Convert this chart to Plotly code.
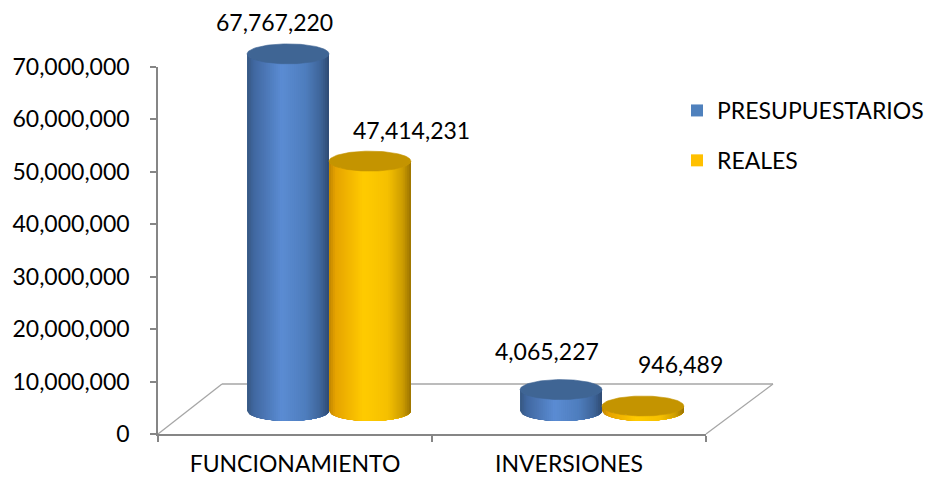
import numpy as np
import plotly.graph_objects as go

# ---------------- data ----------------
CATEGORIES = ["FUNCIONAMIENTO", "INVERSIONES"]
PRESUPUESTARIOS = [67767220, 4065227]
REALES = [47414231, 946489]
SERIES_NAMES = ["PRESUPUESTARIOS", "REALES"]
Y_TICKS = [0, 10000000, 20000000, 30000000, 40000000, 50000000, 60000000, 70000000]

# ---------------- style ----------------
FONT = "Lato"
FS = 23
BLUE_STOPS = [(0.0, "#365780"), (0.08, "#4067a0"), (0.42, "#5b8cd3"),
              (0.72, "#4e7dbd"), (0.9, "#3e6498"), (1.0, "#2e4a72")]
YELLOW_STOPS = [(0.0, "#c08500"), (0.08, "#e6a300"), (0.42, "#ffcb00"),
                (0.72, "#f5c000"), (0.9, "#cc9c00"), (1.0, "#9a7200")]
CAPS = ["#3f6594", "#c49400"]
LEGEND_COLORS = ["#4f81bd", "#ffc000"]
AXIS_GRAY = "#868686"
FLOOR_GRAY = "#a6a6a6"

W, H = 926, 479
ML, MR, MT, MB = 158, 0, 20, 45
PW, PH = W - ML - MR, H - MT - MB          # plot area (px)
PX_PER_UNIT = 273.0                          # px per category step on cylinder axis
PAIR_CENTER_PX = 329.0                       # px of first category pair centre (mid-depth)
BASE_PX = 411.0                              # px of cylinder base centre
PX_PER_VAL = 5.27e-6                         # px per currency unit
X2_RANGE = [-(PAIR_CENTER_PX - ML) / PX_PER_UNIT, -(PAIR_CENTER_PX - ML) / PX_PER_UNIT + PW / PX_PER_UNIT]
Y2_RANGE = [-(H - MB - BASE_PX) / PX_PER_VAL, (BASE_PX - MT) / PX_PER_VAL]

BAR_W = 0.30                                  # cylinder diameter in category units
RX = BAR_W / 2
RY = 10.0 / PX_PER_VAL                        # ellipse half-height in value units
N_STRIPS = 40


def hex2rgb(h):
    h = h.lstrip("#")
    return np.array([int(h[i:i + 2], 16) for i in (0, 2, 4)], dtype=float)


def shade(stops, t):
    for (t0, c0), (t1, c1) in zip(stops[:-1], stops[1:]):
        if t0 <= t <= t1:
            f = (t - t0) / (t1 - t0) if t1 > t0 else 0
            c = hex2rgb(c0) * (1 - f) + hex2rgb(c1) * f
            return "rgb(%d,%d,%d)" % tuple(np.round(c))
    c = hex2rgb(stops[-1][1])
    return "rgb(%d,%d,%d)" % tuple(c)


fig = go.Figure()

# legend-bearing bar traces (covered by the cylinder drawing)
offsets = [-BAR_W, 0.0]
series = [PRESUPUESTARIOS, REALES]
for k, (name, vals) in enumerate(zip(SERIES_NAMES, series)):
    fig.add_trace(go.Bar(
        x=list(range(len(CATEGORIES))), y=vals, name=name,
        width=BAR_W, offset=offsets[k], marker=dict(color=LEGEND_COLORS[k], line=dict(width=0)),
        xaxis="x2", yaxis="y2", hoverinfo="skip", legendgroup=name,
    ))

# cylinders
stops_list = [BLUE_STOPS, YELLOW_STOPS]
for k, vals in enumerate(series):
    for i, v in enumerate(vals):
        cx = i + offsets[k] + BAR_W / 2
        left = cx - RX
        for s in range(N_STRIPS):
            t = (s + 0.5) / N_STRIPS
            xa = left + s * BAR_W / N_STRIPS
            xs = np.linspace(xa, cx + RX, 40)
            u = np.clip((xs - cx) / RX, -1, 1)
            d = RY * np.sqrt(1 - u ** 2)
            px = np.concatenate([xs, xs[::-1]])
            py = np.concatenate([-d, (v - d)[::-1]])
            fig.add_trace(go.Scatter(
                x=px, y=py, mode="lines", fill="toself", line=dict(width=0),
                fillcolor=shade(stops_list[k], t), xaxis="x2", yaxis="y2",
                hoverinfo="skip", showlegend=False,
            ))
        th = np.linspace(0, 2 * np.pi, 120)
        fig.add_trace(go.Scatter(
            x=cx + RX * np.cos(th), y=v + RY * np.sin(th), mode="lines", fill="toself",
            line=dict(width=0.6, color=CAPS[k]), fillcolor=CAPS[k],
            xaxis="x2", yaxis="y2", hoverinfo="skip", showlegend=False,
        ))

# data labels
LABEL_SHIFTS = [[(-14, 32), (-14, 39)], [(42, 31), (38, 42)]]
for k, vals in enumerate(series):
    for i, v in enumerate(vals):
        cx = i + offsets[k] + BAR_W / 2
        dx, dy = LABEL_SHIFTS[k][i]
        fig.add_annotation(
            x=cx, y=v, xref="x2", yref="y2", text=f"{v:,}", showarrow=False,
            xshift=dx, yshift=dy, yanchor="middle", xanchor="center",
            font=dict(family=FONT, size=FS, color="#000000"),
        )

# dummy trace for the category axis
fig.add_trace(go.Scatter(x=CATEGORIES, y=[None, None], mode="markers",
                         showlegend=False, hoverinfo="skip"))


def pxx(p):
    return (p - ML) / PW


def pxy(p):
    return (H - MB - p) / PH


floor_lines = [((158, 434), (222, 384)), ((222, 384), (773, 384)), ((706, 434), (773, 384))]
for (x0, y0), (x1, y1) in floor_lines:
    fig.add_shape(type="line", xref="paper", yref="paper",
                  x0=pxx(x0), y0=pxy(y0), x1=pxx(x1), y1=pxy(y1),
                  line=dict(color=FLOOR_GRAY, width=1.3), layer="below")

fig.update_layout(
    width=W, height=H,
    margin=dict(l=ML, r=MR, t=MT, b=MB, autoexpand=False),
    paper_bgcolor="white", plot_bgcolor="rgba(0,0,0,0)",
    font=dict(family=FONT, size=FS, color="#000000"),
    barmode="overlay",
    showlegend=True,
    legend=dict(x=pxx(677), y=pxy(89), xanchor="left", yanchor="top",
                traceorder="grouped", tracegroupgap=17,
                font=dict(family=FONT, size=FS, color="#000000"),
                bgcolor="rgba(0,0,0,0)"),
    xaxis=dict(type="category", categoryarray=CATEGORIES, range=[-0.5, 1.5],
               domain=[0, (706 - ML) / PW], anchor="y", automargin=False,
               showline=True, linecolor=AXIS_GRAY, linewidth=1.5,
               ticks="outside", tickson="boundaries", ticklen=6, tickcolor=AXIS_GRAY, tickwidth=1.5,
               showgrid=False, zeroline=False, fixedrange=True, ticklabelstandoff=9),
    yaxis=dict(range=[0, 70000000], domain=[0, 367 / PH], anchor="x", automargin=False,
               tickvals=Y_TICKS, tickformat=",", showline=True, linecolor=AXIS_GRAY, linewidth=1.5,
               ticks="outside", ticklen=6, tickcolor=AXIS_GRAY, tickwidth=1.5,
               showgrid=False, zeroline=False, fixedrange=True, ticklabelstandoff=16),
    xaxis2=dict(range=X2_RANGE, domain=[0, 1], anchor="y2", visible=False, fixedrange=True),
    yaxis2=dict(range=Y2_RANGE, domain=[0, 1], anchor="x2", visible=False, fixedrange=True),
)

fig.write_html(
    "out.html",
    config={"displayModeBar": False},
    post_script="document.body.style.margin='0px';document.body.style.overflow='hidden';",
)
